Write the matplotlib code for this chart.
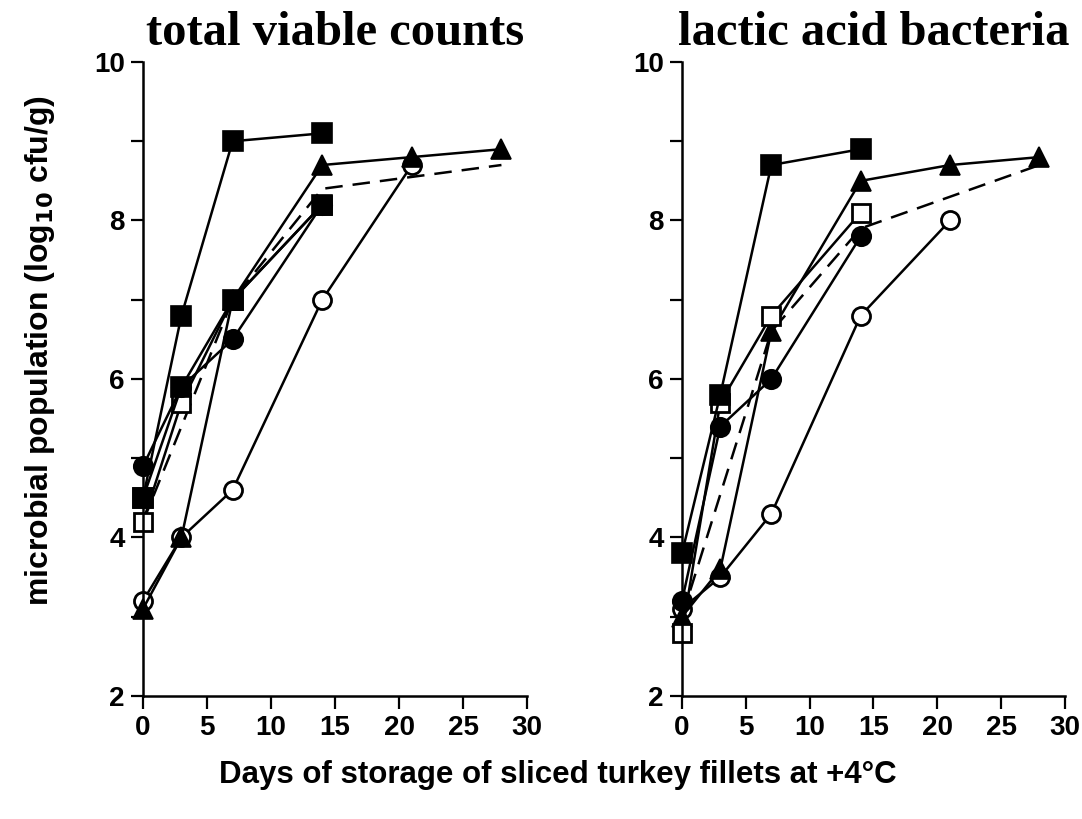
import matplotlib
matplotlib.use("Agg")
import matplotlib.pyplot as plt

# -------------------------------
# data: days of storage, log10 cfu/g
# -------------------------------

titles = ["total viable counts", "lactic acid bacteria"]

# total viable counts
tvc_sq_filled_a_x = [0, 3, 7, 14]
tvc_sq_filled_a_y = [4.5, 6.8, 9.0, 9.1]
tvc_sq_filled_b_x = [0, 3, 7, 14]
tvc_sq_filled_b_y = [4.5, 5.9, 7.0, 8.2]
tvc_circ_filled_x = [0, 3, 7, 14]
tvc_circ_filled_y = [4.9, 5.9, 6.5, 8.2]
tvc_sq_open_x = [0, 3, 7, 14]
tvc_sq_open_y = [4.2, 5.7, 7.0, 8.2]
tvc_dashed_x = [0, 7, 14, 28]
tvc_dashed_y = [4.2, 7.0, 8.4, 8.7]
tvc_tri_x = [0, 3, 7, 14, 21, 28]
tvc_tri_y = [3.1, 4.0, 7.0, 8.7, 8.8, 8.9]
tvc_circ_open_x = [0, 3, 7, 14, 21]
tvc_circ_open_y = [3.2, 4.0, 4.6, 7.0, 8.7]

# lactic acid bacteria
lab_sq_filled_x = [0, 3, 7, 14]
lab_sq_filled_y = [3.8, 5.8, 8.7, 8.9]
lab_sq_open_x = [0, 3, 7, 14]
lab_sq_open_y = [2.8, 5.7, 6.8, 8.1]
lab_circ_filled_x = [0, 3, 7, 14]
lab_circ_filled_y = [3.2, 5.4, 6.0, 7.8]
lab_dashed_x = [0, 7, 14, 28]
lab_dashed_y = [3.0, 6.6, 7.9, 8.7]
lab_tri_x = [0, 3, 7, 14, 21, 28]
lab_tri_y = [3.0, 3.6, 6.6, 8.5, 8.7, 8.8]
lab_circ_open_x = [0, 3, 7, 14, 21]
lab_circ_open_y = [3.1, 3.5, 4.3, 6.8, 8.0]

# -------------------------------
# figure
# -------------------------------

fig = plt.figure(figsize=(10.82, 8.19), dpi=100)
ax1 = fig.add_axes([0.1322, 0.1502, 0.3549, 0.7741])
ax2 = fig.add_axes([0.6303, 0.1502, 0.3540, 0.7741])

lw = 1.8
ms = 14
filled = dict(color="black", markerfacecolor="black", markeredgecolor="black", lw=lw, ms=ms, mew=1.2)
hollow = dict(color="black", markerfacecolor="white", markeredgecolor="black", lw=lw, ms=ms - 1, mew=2.0)
dash = (0, (7, 4))

# left
ax1.plot(tvc_dashed_x, tvc_dashed_y, color="black", lw=lw, ls=dash)
ax1.plot(tvc_circ_open_x, tvc_circ_open_y, marker="o", **hollow)
ax1.plot(tvc_sq_open_x, tvc_sq_open_y, marker="s", **hollow)
ax1.plot(tvc_circ_filled_x, tvc_circ_filled_y, marker="o", **filled)
ax1.plot(tvc_tri_x, tvc_tri_y, marker="^", **filled)
ax1.plot(tvc_sq_filled_b_x, tvc_sq_filled_b_y, marker="s", **filled)
ax1.plot(tvc_sq_filled_a_x, tvc_sq_filled_a_y, marker="s", **filled)

# right
ax2.plot(lab_dashed_x, lab_dashed_y, color="black", lw=lw, ls=dash)
ax2.plot(lab_circ_open_x, lab_circ_open_y, marker="o", **hollow)
ax2.plot(lab_circ_filled_x, lab_circ_filled_y, marker="o", **filled)
ax2.plot(lab_tri_x, lab_tri_y, marker="^", **filled)
ax2.plot(lab_sq_open_x, lab_sq_open_y, marker="s", **hollow)
ax2.plot(lab_sq_filled_x, lab_sq_filled_y, marker="s", **filled)

for ax, title in zip([ax1, ax2], titles):
    ax.set_xlim(0, 30)
    ax.set_ylim(2, 10)
    ax.set_xticks([0, 5, 10, 15, 20, 25, 30])
    ax.set_yticks([2, 4, 6, 8, 10])
    ax.set_yticks([3, 5, 7, 9], minor=True)
    ax.spines["top"].set_visible(False)
    ax.spines["right"].set_visible(False)
    ax.spines["left"].set_linewidth(1.8)
    ax.spines["bottom"].set_linewidth(1.8)
    ax.tick_params(which="both", direction="out", width=1.6, length=9)
    ax.tick_params(axis="x", pad=5)
    ax.tick_params(axis="y", pad=4)
    for lab in ax.get_xticklabels() + ax.get_yticklabels():
        lab.set_fontfamily("Liberation Sans")
        lab.set_fontweight("bold")
        lab.set_fontsize(20)
    for s in ax.spines.values():
        s.set_clip_on(False)
    for line in ax.get_lines():
        line.set_clip_on(False)
    ax.set_title(title, fontfamily="Liberation Serif", fontweight="bold", fontsize=35, pad=12)

fig.text(0.037, 0.572, r"microbial population (log$_{\mathbf{10}}$ cfu/g)", rotation=90,
         ha="center", va="center", fontfamily="Liberation Sans", fontweight="bold", fontsize=23)
fig.text(0.516, 0.054, "Days of storage of sliced turkey fillets at +4°C",
         ha="center", va="center", fontfamily="Liberation Sans", fontweight="bold", fontsize=22.5)

fig.savefig("out.png", dpi=100)
